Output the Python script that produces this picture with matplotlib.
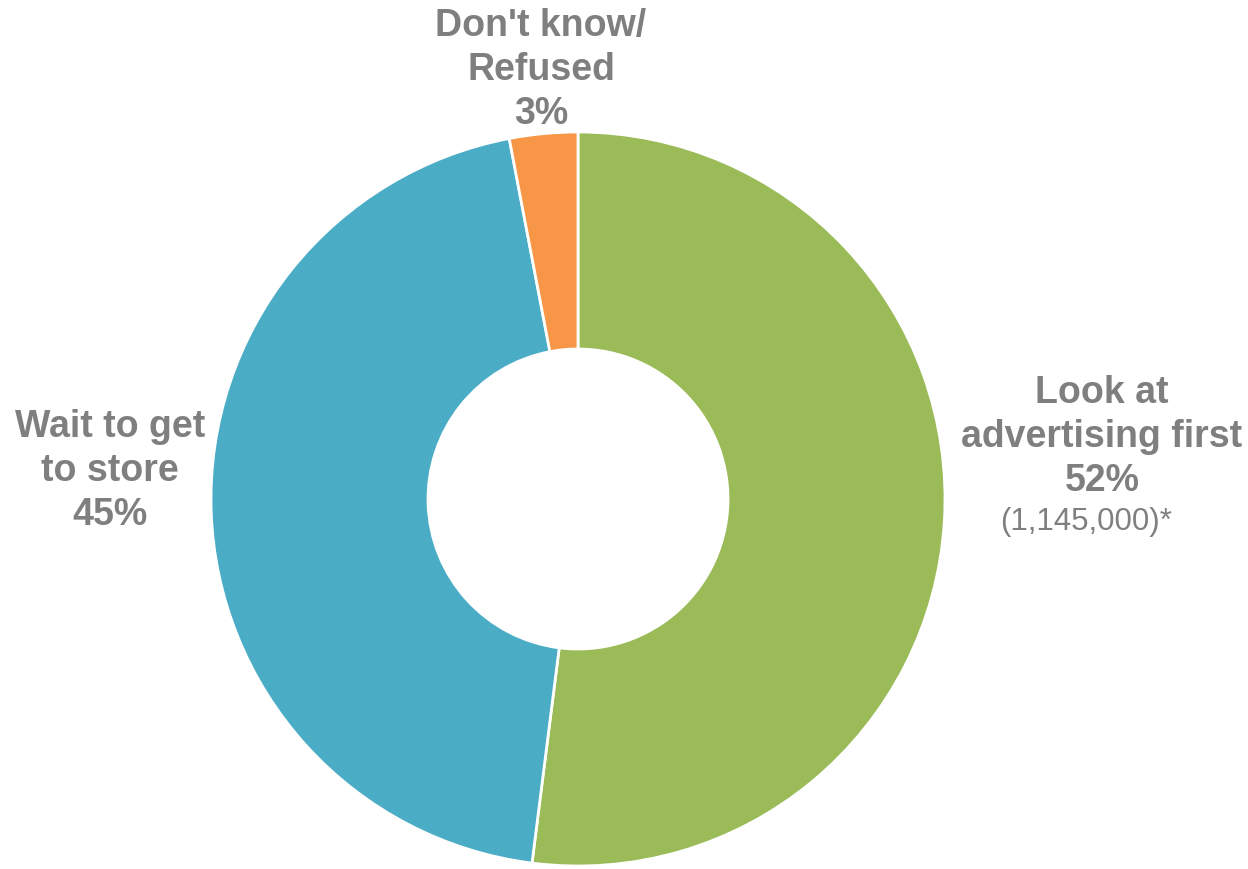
"""Donut chart: checking advertising before shopping."""

import matplotlib

matplotlib.use("Agg")
import matplotlib.pyplot as plt

plt.rcParams["font.family"] = ["Liberation Sans", "DejaVu Sans"]

labels = ["Look at\nadvertising first", "Wait to get\nto store", "Don't know/\nRefused"]
shares = [52, 45, 3]
colors = ["#9BBB59", "#4BACC6", "#F79646"]
count_note = "(1,145,000)*"

# label anchor positions in pixel coords (x, y from top)
label_pos = [(1102, 437), (110, 471), (541, 70)]

W, H = 1248, 870
fig = plt.figure(figsize=(W / 100, H / 100), dpi=100)
ax = fig.add_axes([0, 0, 1, 1])

cx, cy, r_out, r_in = 578, H - 500, 367, 150
ax.pie(
    shares,
    colors=colors,
    startangle=90,
    counterclock=False,
    center=(cx, cy),
    radius=r_out,
    wedgeprops=dict(width=r_out - r_in, edgecolor="white", linewidth=2),
    frame=True,
)
ax.set_xlim(0, W)
ax.set_ylim(0, H)
ax.set_aspect("equal")
ax.axis("off")

gray = "#7F7F7F"
for lab, val, (x, y) in zip(labels, shares, label_pos):
    ax.text(x, H - y, f"{lab}\n{val}%", ha="center", va="center",
            fontsize=27, fontweight="bold", color=gray, linespacing=1.27)

ax.text(1086, H - 522, count_note, ha="center", va="center",
        fontsize=22.5, color=gray)

fig.savefig("out.png", dpi=100)
